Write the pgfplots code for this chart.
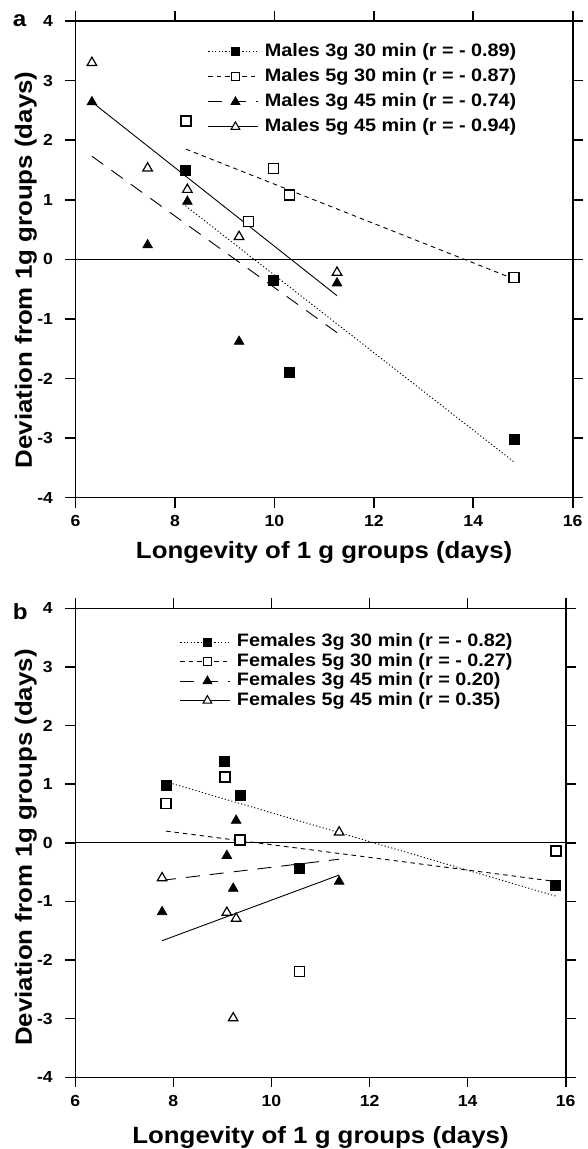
\documentclass[border=0pt]{standalone}
\usepackage{fontspec}
\setmainfont{Liberation Sans}[FakeStretch=1.1]
\usepackage{pgfplots}
\pgfplotsset{compat=1.18}

\pgfplotsset{
  myaxis/.style={
    scale only axis,
    xmin=6, xmax=16, ymin=-4, ymax=4,
    xtick={6,8,10,12,14,16}, xticklabels={6,8,10,12,14,16},
    ytick={-4,-3,-2,-1,0,1,2,3,4}, yticklabels={-4,-3,-2,-1,0,1,2,3,4},
    tick align=outside, major tick length=10pt,
    axis line style={line width=1.6pt},
    every tick/.style={black, line width=1.6pt},
    tick label style={font=\fontsize{16}{16}\selectfont\bfseries},
    every y tick label/.append style={xshift=-9pt},
    every x tick label/.append style={yshift=-4.5pt},
    label style={font=\fontsize{23.5}{23.5}\selectfont\bfseries},
    clip=false,
    legend cell align=left,
    legend image code/.code={\draw (0pt,0pt) -- (50pt,0pt); \draw plot coordinates {(27pt,0pt)};},
  },
  lA/.style={black, line width=0.9pt, dash pattern=on 1.2pt off 2.2pt},
  lB/.style={black, line width=0.9pt, dash pattern=on 4.5pt off 4pt},
  lC/.style={black, line width=0.9pt, dash pattern=on 14pt off 10pt},
  lD/.style={black, line width=0.9pt, solid},
  mA/.style={only marks, mark=square*, mark size=5pt, mark options={solid, fill=black, draw=black, line width=0.8pt}},
  mB/.style={only marks, mark=square*, mark size=5pt, mark options={solid, fill=white, draw=black, line width=1.4pt}},
  mC/.style={only marks, mark=triangle*, mark size=5.5pt, mark options={solid, fill=black, draw=black, line width=0.8pt}},
  mD/.style={only marks, mark=triangle*, mark size=5.5pt, mark options={solid, fill=white, draw=black, line width=1.2pt}},
  leg/.style={draw=none, fill=none, anchor=north west,
    inner sep=0pt, outer sep=0pt,
    font=\fontsize{18}{18}\selectfont\bfseries,
    nodes={inner ysep=0pt, inner xsep=2pt, text height=13pt, text depth=4pt},
    /tikz/every odd column/.append style={column sep=4pt}},
}

\begin{document}
\begin{tikzpicture}
\useasboundingbox (0,0) rectangle (587pt,1149pt);

% ---------------- panel a ----------------
\begin{axis}[myaxis,
  at={(75.5pt,651.3pt)}, anchor=south west,
  width=497.2pt, height=476.7pt,
  xlabel={Longevity of 1 g groups (days)},
  ylabel={Deviation from 1g groups (days)},
  xlabel style={at={(axis description cs:0.5,0)}, anchor=base, yshift=-61.3pt},
  ylabel style={at={(axis description cs:-0.0875,0.478)}, anchor=base},
  legend style={leg, at={(0.2665,0.953)}, row sep=8pt},
]
\addplot[black, line width=1.2pt, forget plot] coordinates {(6,0) (16,0)};
% regression lines
\addplot[lA, forget plot] coordinates {(8.21,0.90) (14.82,-3.40)};
\addplot[lB, forget plot] coordinates {(8.22,1.85) (14.82,-0.33)};
\addplot[lC, forget plot] coordinates {(6.33,1.73) (11.26,-1.23)};
\addplot[lD, forget plot] coordinates {(6.33,2.64) (11.26,-0.61)};
% data
\addplot[mA, forget plot] coordinates {(8.21,1.50) (9.98,-0.35) (10.30,-1.90) (14.82,-3.02)};
\addplot[mB, forget plot] coordinates {(8.22,2.32) (9.98,1.52) (10.30,1.08) (9.48,0.64) (14.82,-0.30)};
\addplot[mC, forget plot] coordinates {(6.33,2.64) (7.45,0.24) (8.25,0.97) (9.29,-1.38) (11.26,-0.40)};
\addplot[mD, forget plot] coordinates {(6.33,3.30) (7.45,1.53) (8.25,1.17) (9.29,0.38) (11.26,-0.22)};
% legend
\addlegendimage{lA, mark=square*, mark size=4pt, mark options={solid, fill=black}}
\addlegendentry{Males 3g 30 min (r = - 0.89)}
\addlegendimage{lB, mark=square*, mark size=4pt, mark options={solid, fill=white, line width=1.2pt}}
\addlegendentry{Males 5g 30 min (r = - 0.87)}
\addlegendimage{lC, mark=triangle*, mark size=5pt, mark options={solid, fill=black}}
\addlegendentry{Males 3g 45 min (r = - 0.74)}
\addlegendimage{lD, mark=triangle*, mark size=5pt, mark options={solid, fill=white, line width=1.1pt}}
\addlegendentry{Males 5g 45 min (r = - 0.94)}
\end{axis}

% ---------------- panel b ----------------
\begin{axis}[myaxis,
  at={(75.3pt,71.7pt)}, anchor=south west,
  width=490.4pt, height=469pt,
  xlabel={Longevity of 1 g groups (days)},
  ylabel={Deviation from 1g groups (days)},
  xlabel style={at={(axis description cs:0.5,0)}, anchor=base, yshift=-65.7pt},
  ylabel style={at={(axis description cs:-0.0883,0.49)}, anchor=base},
  legend style={leg, at={(0.2135,0.946)}, row sep=2.5pt},
]
\addplot[black, line width=1.2pt, forget plot] coordinates {(6,0) (16,0)};
\addplot[lA, forget plot] coordinates {(7.85,1.04) (15.80,-0.91)};
\addplot[lB, forget plot] coordinates {(7.85,0.20) (15.80,-0.66)};
\addplot[lC, forget plot] coordinates {(7.77,-0.64) (11.38,-0.28)};
\addplot[lD, forget plot] coordinates {(7.77,-1.67) (11.38,-0.55)};
\addplot[mA, forget plot] coordinates {(7.85,0.98) (9.05,1.38) (9.36,0.81) (10.57,-0.43) (15.80,-0.73)};
\addplot[mB, forget plot] coordinates {(7.85,0.67) (9.05,1.12) (9.36,0.05) (10.57,-2.20) (15.80,-0.14)};
\addplot[mC, forget plot] coordinates {(7.77,-1.18) (9.09,-0.22) (9.22,-0.78) (9.28,0.38) (11.38,-0.66)};
\addplot[mD, forget plot] coordinates {(7.77,-0.60) (9.09,-1.19) (9.28,-1.29) (9.22,-2.99) (11.38,0.18)};
\addlegendimage{lA, mark=square*, mark size=4pt, mark options={solid, fill=black}}
\addlegendentry{Females 3g 30 min (r = - 0.82)}
\addlegendimage{lB, mark=square*, mark size=4pt, mark options={solid, fill=white, line width=1.2pt}}
\addlegendentry{Females 5g 30 min (r = - 0.27)}
\addlegendimage{lC, mark=triangle*, mark size=5pt, mark options={solid, fill=black}}
\addlegendentry{Females 3g 45 min (r = 0.20)}
\addlegendimage{lD, mark=triangle*, mark size=5pt, mark options={solid, fill=white, line width=1.1pt}}
\addlegendentry{Females 5g 45 min (r = 0.35)}
\end{axis}

\node[anchor=base west, font=\fontsize{22}{22}\selectfont\bfseries, inner sep=0pt] at (12.7pt,1122.3pt) {a};
\node[anchor=base west, font=\fontsize{22}{22}\selectfont\bfseries, inner sep=0pt] at (12.7pt,529.7pt) {b};
\end{tikzpicture}
\end{document}
